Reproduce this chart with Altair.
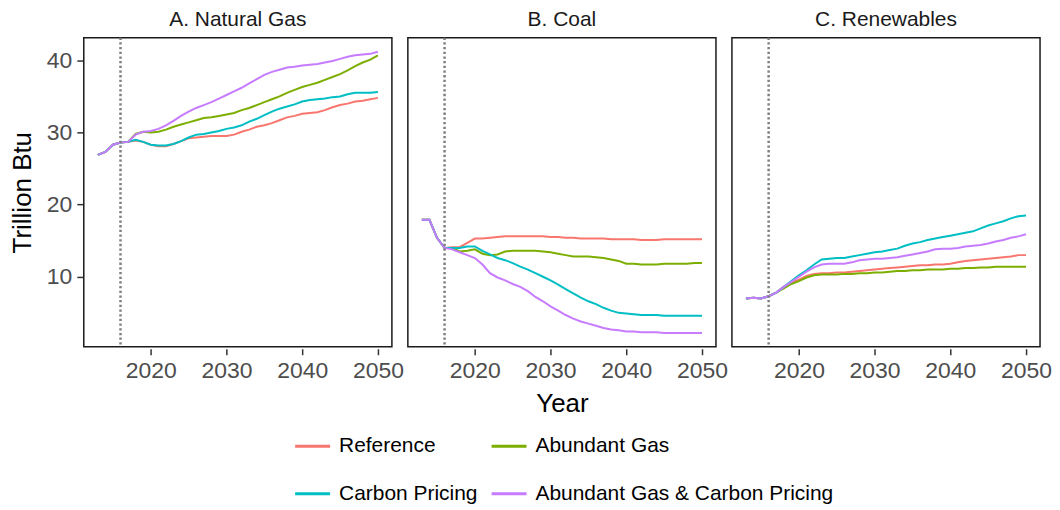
import altair as alt
import pandas as pd

years = list(range(2013, 2051))
panels = ["A. Natural Gas", "B. Coal", "C. Renewables"]
scenarios = ["Reference", "Abundant Gas", "Carbon Pricing", "Abundant Gas & Carbon Pricing"]
colors = ["#F8766D", "#7CAE00", "#00BFC4", "#C77CFF"]

# shared history 2013-2016
gas_hist = [26.9, 27.3, 28.3, 28.6]
coal_hist = [17.9, 17.9, 15.4, 14.0]
ren_hist = [7.0, 7.1, 7.0, 7.3]

# projections 2017-2050
gas_ref = [28.7, 28.9, 28.7, 28.3, 28.1, 28.1, 28.4, 28.8, 29.2, 29.3, 29.4, 29.5, 29.5, 29.5, 29.7, 30.1, 30.4,
           30.8, 31.0, 31.3, 31.7, 32.1, 32.3, 32.6, 32.7, 32.8, 33.1, 33.5, 33.8, 34.0, 34.3, 34.4, 34.6, 34.8]
gas_ag = [28.7, 29.8, 30.1, 30.0, 30.1, 30.4, 30.8, 31.1, 31.4, 31.7, 32.0, 32.1, 32.3, 32.5, 32.7, 33.1, 33.4,
          33.8, 34.2, 34.6, 35.0, 35.5, 35.9, 36.3, 36.6, 36.9, 37.3, 37.7, 38.1, 38.6, 39.2, 39.7, 40.1, 40.7]
gas_cp = [28.7, 29.0, 28.7, 28.3, 28.2, 28.2, 28.4, 28.8, 29.3, 29.7, 29.8, 30.0, 30.2, 30.5, 30.7, 31.0, 31.5,
          31.9, 32.4, 32.9, 33.3, 33.6, 33.9, 34.3, 34.5, 34.6, 34.7, 34.9, 35.0, 35.3, 35.5, 35.5, 35.5, 35.6]
gas_agcp = [28.7, 29.7, 30.1, 30.2, 30.5, 31.0, 31.6, 32.3, 32.9, 33.4, 33.8, 34.2, 34.7, 35.2, 35.7, 36.2, 36.8,
            37.4, 38.0, 38.4, 38.7, 39.0, 39.1, 39.3, 39.4, 39.5, 39.7, 39.9, 40.2, 40.5, 40.7, 40.8, 40.9, 41.2]

coal_ref = [14.1, 14.1, 14.7, 15.3, 15.3, 15.4, 15.5, 15.6, 15.6, 15.6, 15.6, 15.6, 15.6, 15.5, 15.5, 15.4, 15.4,
            15.3, 15.3, 15.3, 15.3, 15.2, 15.2, 15.2, 15.2, 15.1, 15.1, 15.1, 15.2, 15.2, 15.2, 15.2, 15.2, 15.2]
coal_ag = [14.0, 13.5, 13.6, 13.8, 13.2, 13.0, 13.1, 13.5, 13.6, 13.6, 13.6, 13.6, 13.5, 13.4, 13.2, 13.0, 12.8,
           12.8, 12.8, 12.7, 12.6, 12.4, 12.2, 11.8, 11.8, 11.7, 11.7, 11.7, 11.8, 11.8, 11.8, 11.8, 11.9, 11.9]
coal_cp = [14.0, 14.0, 14.2, 14.2, 13.6, 13.1, 12.6, 12.3, 11.9, 11.4, 11.0, 10.5, 10.0, 9.5, 8.9, 8.3, 7.7,
           7.1, 6.6, 6.2, 5.7, 5.3, 5.0, 4.9, 4.8, 4.7, 4.7, 4.7, 4.6, 4.6, 4.6, 4.6, 4.6, 4.6]
coal_agcp = [13.8, 13.4, 13.0, 12.6, 11.7, 10.5, 9.9, 9.5, 9.0, 8.6, 8.0, 7.2, 6.6, 5.9, 5.3, 4.7, 4.2,
             3.8, 3.5, 3.2, 2.9, 2.7, 2.6, 2.4, 2.4, 2.3, 2.3, 2.3, 2.2, 2.2, 2.2, 2.2, 2.2, 2.2]

ren_ref = [7.8, 8.6, 9.2, 9.6, 10.1, 10.4, 10.5, 10.5, 10.6, 10.6, 10.7, 10.8, 10.9, 11.0, 11.1, 11.2, 11.3,
           11.4, 11.5, 11.6, 11.6, 11.7, 11.7, 11.8, 12.0, 12.2, 12.3, 12.4, 12.5, 12.6, 12.7, 12.8, 13.0, 13.0]
ren_ag = [7.8, 8.4, 9.0, 9.4, 9.9, 10.2, 10.3, 10.3, 10.3, 10.4, 10.4, 10.5, 10.5, 10.6, 10.6, 10.7, 10.8,
          10.8, 10.9, 10.9, 11.0, 11.0, 11.0, 11.1, 11.1, 11.2, 11.2, 11.3, 11.3, 11.4, 11.4, 11.4, 11.4, 11.4]
ren_cp = [7.8, 8.6, 9.4, 10.2, 10.9, 11.7, 12.4, 12.5, 12.6, 12.6, 12.8, 13.0, 13.2, 13.4, 13.5, 13.7, 13.9,
          14.3, 14.6, 14.8, 15.1, 15.3, 15.5, 15.7, 15.9, 16.1, 16.3, 16.7, 17.1, 17.4, 17.7, 18.1, 18.4, 18.5]
ren_agcp = [7.8, 8.6, 9.3, 10.0, 10.7, 11.3, 11.7, 11.8, 11.8, 11.8, 12.0, 12.3, 12.4, 12.5, 12.5, 12.6, 12.7,
            12.9, 13.1, 13.3, 13.5, 13.8, 13.9, 13.9, 14.0, 14.2, 14.3, 14.4, 14.6, 14.9, 15.1, 15.4, 15.6, 15.9]

base_year = [2016]

series = {
    panels[0]: (gas_hist, [gas_ref, gas_ag, gas_cp, gas_agcp]),
    panels[1]: (coal_hist, [coal_ref, coal_ag, coal_cp, coal_agcp]),
    panels[2]: (ren_hist, [ren_ref, ren_ag, ren_cp, ren_agcp]),
}

rows = []
for p in panels:
    hist, proj = series[p]
    for s, vals in zip(scenarios, proj):
        for y, v in zip(years, hist + vals):
            rows.append({"panel": p, "scenario": s, "year": y, "value": v})
df = pd.DataFrame(rows)

FONT = "Liberation Sans"

lines = alt.Chart().mark_line(strokeWidth=2).encode(
    x=alt.X("year:Q", scale=alt.Scale(domain=[2011.15, 2051.85], nice=False, zero=False),
            axis=alt.Axis(values=[2020, 2030, 2040, 2050], format="d", title=None)),
    y=alt.Y("value:Q", scale=alt.Scale(domain=[0.3, 43.15], nice=False, zero=False),
            axis=alt.Axis(values=[10, 20, 30, 40], title="Trillion Btu")),
    color=alt.Color("scenario:N", sort=scenarios,
                    scale=alt.Scale(domain=scenarios, range=colors),
                    legend=alt.Legend(title=None, orient="none", columns=2, direction="horizontal",
                                      legendX=210, legendY=390,
                                      symbolType="stroke", symbolSize=1230, symbolStrokeWidth=3,
                                      labelFontSize=21, labelFont=FONT, labelColor="black",
                                      labelOffset=7, columnPadding=7, rowPadding=18,
                                      labelLimit=400)),
    detail="scenario:N",
)

vline = alt.Chart(pd.DataFrame({"year": base_year})).mark_rule(
    color="#7F7F7F", strokeWidth=2.5, strokeDash=[2.3, 2.4]
).encode(x="year:Q")

chart = alt.layer(lines, vline).properties(width=309, height=310).facet(
    column=alt.Column("panel:N", sort=panels,
                      header=alt.Header(labelOrient="top", labelFontSize=21, labelFont=FONT,
                                        labelColor="#1A1A1A", labelPadding=6,
                                        title="Year", titleOrient="bottom", titleFontSize=26,
                                        titleFont=FONT, titleFontWeight="normal",
                                        titleColor="black", titlePadding=-2)),
    data=df,
    spacing=14,
).configure(
    padding={"left": 1, "top": 0, "right": 0, "bottom": 0}, font=FONT
).configure_view(
    stroke="#1A1A1A", strokeWidth=1.5
).configure_axis(
    grid=False, domain=False, tickColor="#333333", tickSize=6, tickWidth=1.5,
    labelFontSize=23, labelColor="#4D4D4D", labelFont=FONT, labelPadding=5,
    titleFontSize=26, titleFont=FONT, titleFontWeight="normal", titleColor="black", titlePadding=11,
)

chart.save("out.html", embed_options={"renderer": "svg", "actions": False})
